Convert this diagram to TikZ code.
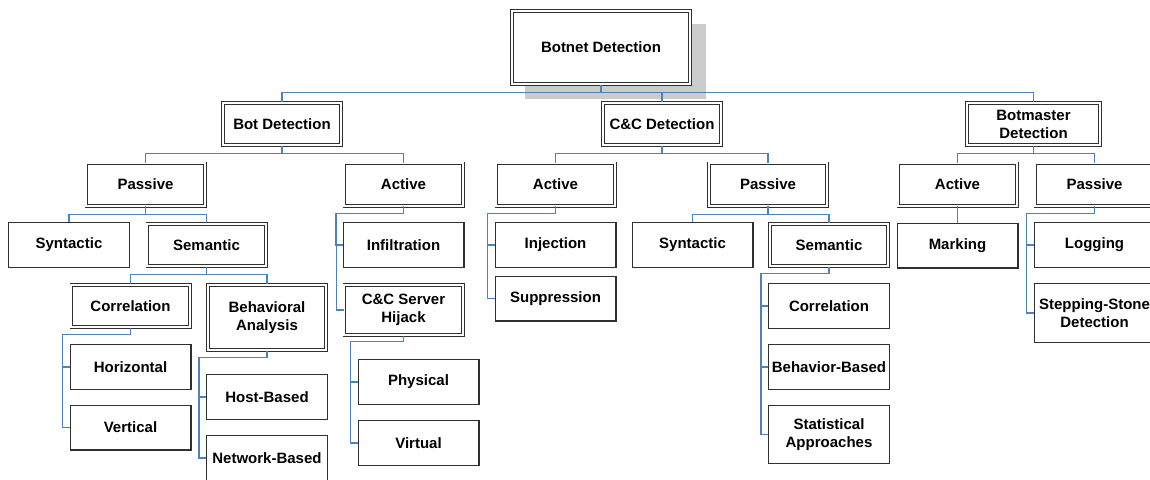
\documentclass[tikz,border=0pt]{standalone}
\usepackage{fontspec}
\setmainfont{Liberation Sans}
\usetikzlibrary{calc,backgrounds}
\definecolor{conncol}{HTML}{4F81BD}
\definecolor{boxcol}{HTML}{303030}
\definecolor{shadcol}{HTML}{CBCBCB}
\begin{document}
\begin{tikzpicture}[x=0.75pt,y=-0.75pt,
  txt/.style={font=\fontsize{11.25pt}{13.5pt}\selectfont\bfseries, align=center, inner sep=0pt, text=black},
  sbox/.style={txt, draw=boxcol, fill=white, line width=1pt, minimum width=90.5pt, minimum height=33.5pt},
  dbox/.style={txt, draw=boxcol, fill=white, line width=0.7pt, double=white, double distance=1.3pt, minimum width=88.8pt, minimum height=31.8pt},
  conn/.style={draw=conncol, line width=0.9pt}]
\useasboundingbox (0,0) rectangle (1150,479);

% level 0
\node[dbox, minimum width=133.8pt, minimum height=55pt] (root) at (601,47.5) {Botnet Detection};
\begin{scope}[on background layer]
\fill[shadcol] ($(root.south west)+(14,14)$) rectangle ($(root.north east)+(15,14)$);
\end{scope}

% level 1
\node[dbox] (bot) at (282,124) {Bot Detection};
\node[dbox] (cc) at (662,124) {C\&C Detection};
\node[dbox, minimum width=100pt] (bm) at (1033.5,124) {Botmaster\\Detection};

% bot detection subtree
\node[dbox] (bp) at (145.5,184.5) {Passive};
\node[dbox] (ba) at (403.5,184.5) {Active};
\node[sbox] (bsyn) at (69,245) {Syntactic};
\node[dbox] (bsem) at (206.5,245) {Semantic};
\node[dbox] (bcorr) at (130.5,306) {Correlation};
\node[dbox, minimum height=49pt] (bbeh) at (267,317.5) {Behavioral\\Analysis};
\node[sbox] (bhor) at (130.5,367) {Horizontal};
\node[sbox] (bver) at (130.5,427.5) {Vertical};
\node[sbox] (bhost) at (267,397) {Host-Based};
\node[sbox] (bnet) at (267,458) {Network-Based};
\node[sbox] (binf) at (403.5,245) {Infiltration};
\node[dbox, minimum height=37.8pt] (bhij) at (403.5,310) {C\&C Server\\Hijack};
\node[sbox] (bphy) at (418.5,382) {Physical};
\node[sbox] (bvir) at (418.5,443) {Virtual};

% C&C subtree
\node[dbox] (ca) at (555.5,184.5) {Active};
\node[dbox] (cp) at (768,184.5) {Passive};
\node[sbox] (cinj) at (555.5,245) {Injection};
\node[sbox] (csup) at (555.5,298.5) {Suppression};
\node[sbox] (csyn) at (692.5,245) {Syntactic};
\node[dbox] (csem) at (829,245) {Semantic};
\node[sbox] (ccorr) at (829,306) {Correlation};
\node[sbox] (cbeh) at (829,367) {Behavior-Based};
\node[sbox, minimum height=43.5pt] (cstat) at (829,434.5) {Statistical\\Approaches};

% Botmaster subtree
\node[dbox] (ma) at (957.5,184.5) {Active};
\node[dbox] (mp) at (1094.5,184.5) {Passive};
\node[sbox] (mmark) at (957.5,245.5) {Marking};
\node[sbox] (mlog) at (1094.5,245) {Logging};
\node[sbox, minimum height=44.5pt] (mstep) at (1094.5,313) {Stepping-Stone\\Detection};

% connectors: tree style
\draw[conn] (root.south) -- ++(0,8) -| (bot.north);
\draw[conn] (root.south) -- ++(0,8) -| (cc.north);
\draw[conn] (root.south) -- ++(0,8) -| (bm.north);
\draw[conn] (bot.south) -- ++(0,8) -| (bp.north);
\draw[conn] (bot.south) -- ++(0,8) -| (ba.north);
\draw[conn] (cc.south) -- ++(0,8) -| (ca.north);
\draw[conn] (cc.south) -- ++(0,8) -| (cp.north);
\draw[conn] (bm.south) -- ++(0,8) -| (ma.north);
\draw[conn] (bm.south) -- ++(0,8) -| (mp.north);
\draw[conn] (bp.south) -- ++(0,8) -| (bsyn.north);
\draw[conn] (bp.south) -- ++(0,8) -| (bsem.north);
\draw[conn] (bsem.south) -- ++(0,8) -| (bcorr.north);
\draw[conn] (bsem.south) -- ++(0,8) -| (bbeh.north);
\draw[conn] (cp.south) -- ++(0,8) -| (csyn.north);
\draw[conn] (cp.south) -- ++(0,8) -| (csem.north);
\draw[conn] (ma.south) -- (mmark.north);

% connectors: side style
\draw[conn] (bcorr.south) -- ++(0,7) -| ($(bhor.west)+(-7,0)$) -- (bhor.west);
\draw[conn] (bcorr.south) -- ++(0,7) -| ($(bver.west)+(-7,0)$) -- (bver.west);
\draw[conn] (bbeh.south) -- ++(0,7) -| ($(bhost.west)+(-7,0)$) -- (bhost.west);
\draw[conn] (bbeh.south) -- ++(0,7) -| ($(bnet.west)+(-7,0)$) -- (bnet.west);
\draw[conn] (ba.south) -- ++(0,7) -| ($(binf.west)+(-7,0)$) -- (binf.west);
\draw[conn] (ba.south) -- ++(0,7) -| ($(bhij.west)+(-7,0)$) -- (bhij.west);
\draw[conn] (bhij.south) -- ++(0,6) -| ($(bphy.west)+(-7,0)$) -- (bphy.west);
\draw[conn] (bhij.south) -- ++(0,6) -| ($(bvir.west)+(-7,0)$) -- (bvir.west);
\draw[conn] (ca.south) -- ++(0,7) -| ($(cinj.west)+(-7,0)$) -- (cinj.west);
\draw[conn] (ca.south) -- ++(0,7) -| ($(csup.west)+(-7,0)$) -- (csup.west);
\draw[conn] (csem.south) -- ++(0,7) -| ($(ccorr.west)+(-7,0)$) -- (ccorr.west);
\draw[conn] (csem.south) -- ++(0,7) -| ($(cbeh.west)+(-7,0)$) -- (cbeh.west);
\draw[conn] (csem.south) -- ++(0,7) -| ($(cstat.west)+(-7,0)$) -- (cstat.west);
\draw[conn] (mp.south) -- ++(0,7) -| ($(mlog.west)+(-7,0)$) -- (mlog.west);
\draw[conn] (mp.south) -- ++(0,7) -| ($(mstep.west)+(-7,0)$) -- (mstep.west);
\end{tikzpicture}
\end{document}
